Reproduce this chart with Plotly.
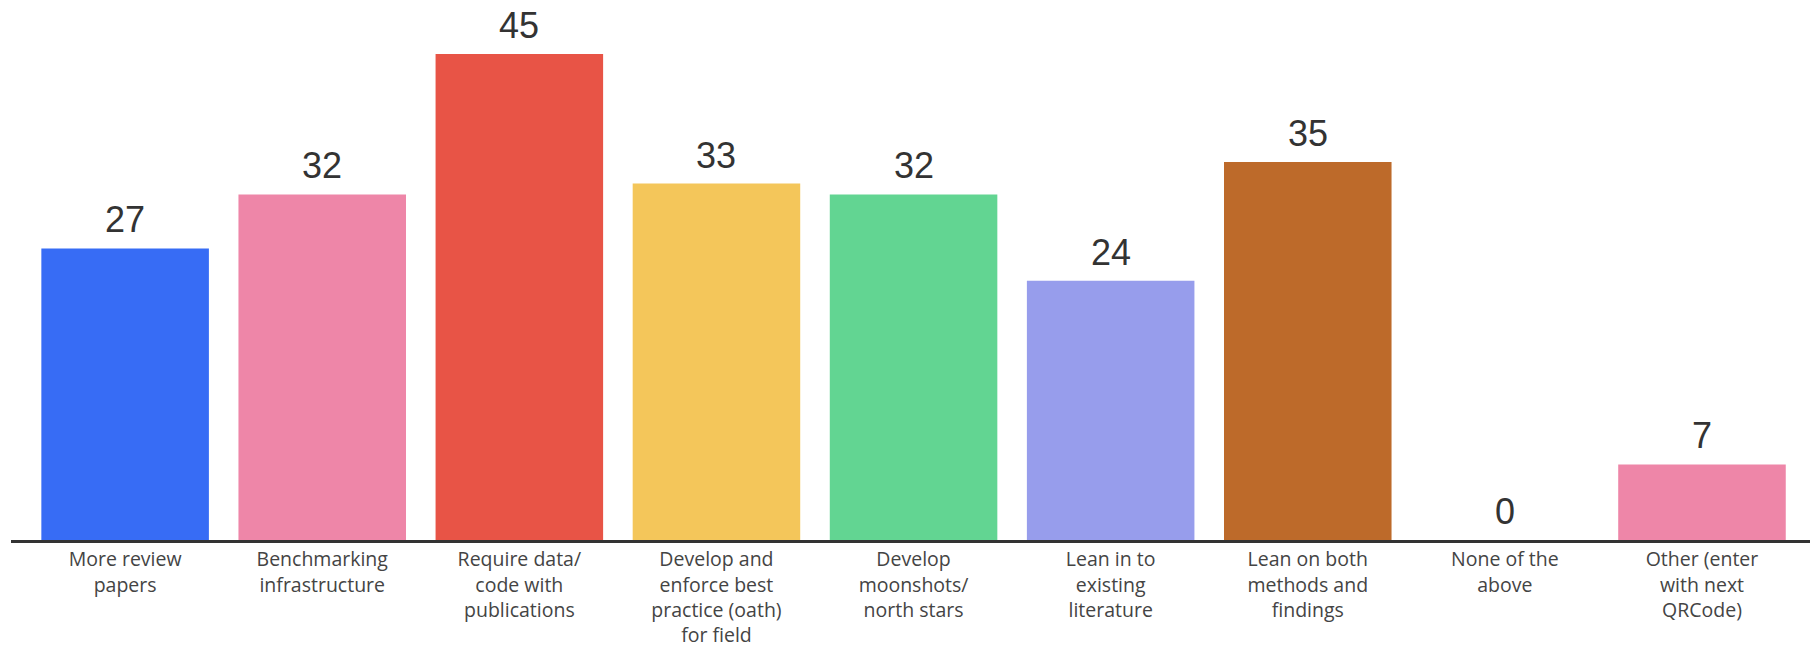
import plotly.graph_objects as go

categories = [
    "More review<br>papers",
    "Benchmarking<br>infrastructure",
    "Require data/<br>code with<br>publications",
    "Develop and<br>enforce best<br>practice (oath)<br>for field",
    "Develop<br>moonshots/<br>north stars",
    "Lean in to<br>existing<br>literature",
    "Lean on both<br>methods and<br>findings",
    "None of the<br>above",
    "Other (enter<br>with next<br>QRCode)",
]
values = [27, 32, 45, 33, 32, 24, 35, 0, 7]
colors = ["#376CF5", "#EE86A8", "#E85446", "#F4C65A", "#62D592",
          "#979DEC", "#BD6A2A", "#CCCCCC", "#EE86A8"]

x_idx = list(range(len(categories)))

fig = go.Figure()
fig.add_trace(go.Bar(
    x=x_idx, y=values,
    marker=dict(color=colors, line=dict(width=0)),
    width=0.85,
    hoverinfo="skip",
))

for i, v in zip(x_idx, values):
    fig.add_annotation(
        x=i, y=v, text=str(v), showarrow=False,
        yanchor="bottom", yshift=6,
        font=dict(family="Liberation Sans, Arial, sans-serif", size=36, color="#333333"),
    )

fig.update_layout(
    width=1810, height=650,
    margin=dict(l=11, r=0, t=0, b=110),
    paper_bgcolor="white", plot_bgcolor="white",
    showlegend=False,
    xaxis=dict(
        range=[-0.579, 8.548],
        tickmode="array", tickvals=x_idx, ticktext=categories,
        showline=True, linecolor="#333333", linewidth=3,
        showgrid=False, zeroline=False,
        ticks="", ticklabelstandoff=0,
        tickfont=dict(family="Open Sans, sans-serif", size=19.5, color="#444444"),
        automargin=False,
        fixedrange=True,
    ),
    yaxis=dict(
        range=[0, 50], visible=False, showgrid=False, zeroline=False,
        automargin=False,
    ),
)

fig.write_html("out.html")
